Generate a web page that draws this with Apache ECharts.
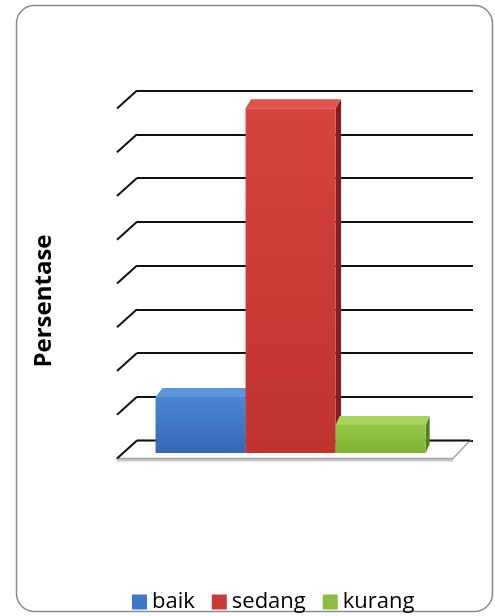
<!DOCTYPE html>
<html>
<head>
<meta charset="utf-8">
<script src="https://cdn.jsdelivr.net/npm/echarts@6/dist/echarts.min.js"></script>
<style>
  html, body { margin: 0; padding: 0; background: #ffffff; }
  #chart { width: 495px; height: 616px; }
</style>
</head>
<body>
<div id="chart"></div>
<script>
// One cluster of three columns (percentages)
const categories = [''];
const seriesNames = ['baik', 'sedang', 'kurang'];
const baik = [12.8];
const sedang = [78.8];
const kurang = [6.4];
const gridTicks = [0, 10, 20, 30, 40, 50, 60, 70, 80];

// Face colours: [front top, front bottom, side, top]
const palettes = [
  ['#4a87d2', '#3567b4', '#22477f', '#5b95dc'],
  ['#d6443f', '#c0332f', '#7f1f1d', '#e0534d'],
  ['#95c848', '#7fb233', '#567c1f', '#a8d45c']
];
const legendColors = ['#3f78c6', '#c93a36', '#8bbd40'];

// Oblique depth of the floor / side wall (back plane -> front edge)
const WALL_DX = -20, WALL_DY = 18;
// Column front faces sit this far in front of the back wall
const FRONT_DX = -14.4, FRONT_DY = 12.5;

const chart = echarts.init(document.getElementById('chart'));

function wallRender(params, api) {
  const cs = params.coordSys;
  const v = api.value(1);
  const y = api.coord([0, v])[1];
  const x = cs.x;
  const children = [];
  if (v === 0) {
    // floor slab
    const w = cs.width;
    children.push({
      type: 'polygon',
      shape: { points: [[x - 20, y + 18], [x + w - 20, y + 18], [x + w - 20, y + 21], [x - 20, y + 21]] },
      style: { fill: '#c9c9c9' }
    });
    children.push({
      type: 'polygon',
      shape: { points: [[x, y], [x + w - 3, y], [x + w - 20, y + 18], [x - 20, y + 18]] },
      style: { fill: '#ffffff', stroke: '#a6a6a6', lineWidth: 1.5 }
    });
    children.push({
      type: 'line',
      shape: { x1: x, y1: y, x2: x + w - 3, y2: y },
      style: { stroke: '#111111', lineWidth: 2 }
    });
  }
  children.push({
    type: 'line',
    shape: { x1: x, y1: y, x2: x + WALL_DX, y2: y + WALL_DY },
    style: { stroke: '#111111', lineWidth: 2 }
  });
  return { type: 'group', children: children };
}

function barRender(idx) {
  return function (params, api) {
    const band = api.size([1, 0])[0];
    const bw = band * 0.268;
    const v = api.value(1);
    const center = api.coord([api.value(0), 0])[0];
    const x0 = center + (idx - 1.5) * bw + FRONT_DX;
    const x1 = x0 + bw;
    const yBottom = api.coord([0, 0])[1] + FRONT_DY;
    const yTop = api.coord([0, v])[1] + FRONT_DY;
    const dx = 7 - 1.5 * idx, dy = 9;
    const pal = palettes[idx];
    return {
      type: 'group',
      children: [
        {
          type: 'polygon',
          shape: { points: [[x1, yTop], [x1 + dx, yTop - dy], [x1 + dx, yBottom - dy], [x1, yBottom]] },
          style: { fill: pal[2] }
        },
        {
          type: 'rect',
          shape: { x: x0, y: yTop, width: bw, height: yBottom - yTop },
          style: {
            fill: new echarts.graphic.LinearGradient(0, 0, 0, 1, [
              { offset: 0, color: pal[0] },
              { offset: 1, color: pal[1] }
            ])
          }
        },
        {
          type: 'polygon',
          shape: { points: [[x0, yTop], [x1, yTop], [x1 + dx, yTop - dy], [x0 + dx, yTop - dy]] },
          style: { fill: pal[3] }
        }
      ]
    };
  };
}

const valueSets = [baik, sedang, kurang];

const series = [{
  type: 'custom',
  name: 'walls',
  renderItem: wallRender,
  data: gridTicks.map(t => [0, t]),
  encode: { x: 0, y: 1 },
  silent: true,
  z: 1
}].concat(seriesNames.map((name, i) => ({
  type: 'custom',
  name: name,
  renderItem: barRender(i),
  data: valueSets[i].map((v, k) => [k, v]),
  encode: { x: 0, y: 1 },
  itemStyle: { color: legendColors[i] },
  z: 2 + i
})));

chart.setOption({
  animation: false,
  backgroundColor: '#ffffff',
  grid: { left: 137, top: 90.5, width: 336, height: 350 },
  xAxis: {
    type: 'category',
    data: categories,
    axisLine: { show: false },
    axisTick: { show: false },
    axisLabel: { show: false }
  },
  yAxis: {
    type: 'value',
    min: 0,
    max: 80,
    interval: 10,
    axisLabel: { show: false },
    axisLine: { show: false },
    axisTick: { show: false },
    splitLine: { lineStyle: { color: '#111111', width: 2 } }
  },
  legend: {
    data: seriesNames,
    left: 127,
    top: 586,
    icon: 'rect',
    itemWidth: 15,
    itemHeight: 15,
    itemGap: 17,
    textStyle: { fontFamily: 'Open Sans', fontSize: 22, color: '#000000' }
  },
  graphic: [
    {
      type: 'rect',
      shape: { x: 16.5, y: 5.5, width: 476, height: 606, r: 18 },
      style: { fill: 'none', stroke: '#8a8a8a', lineWidth: 1.5 },
      z: 0
    },
    {
      type: 'text',
      x: 44,
      y: 301,
      rotation: Math.PI / 2,
      style: {
        text: 'Persentase',
        fontFamily: 'Open Sans',
        fontWeight: 'bold',
        fontSize: 24,
        fill: '#000000',
        align: 'center',
        verticalAlign: 'middle'
      }
    }
  ],
  series: series
});
</script>
</body>
</html>
